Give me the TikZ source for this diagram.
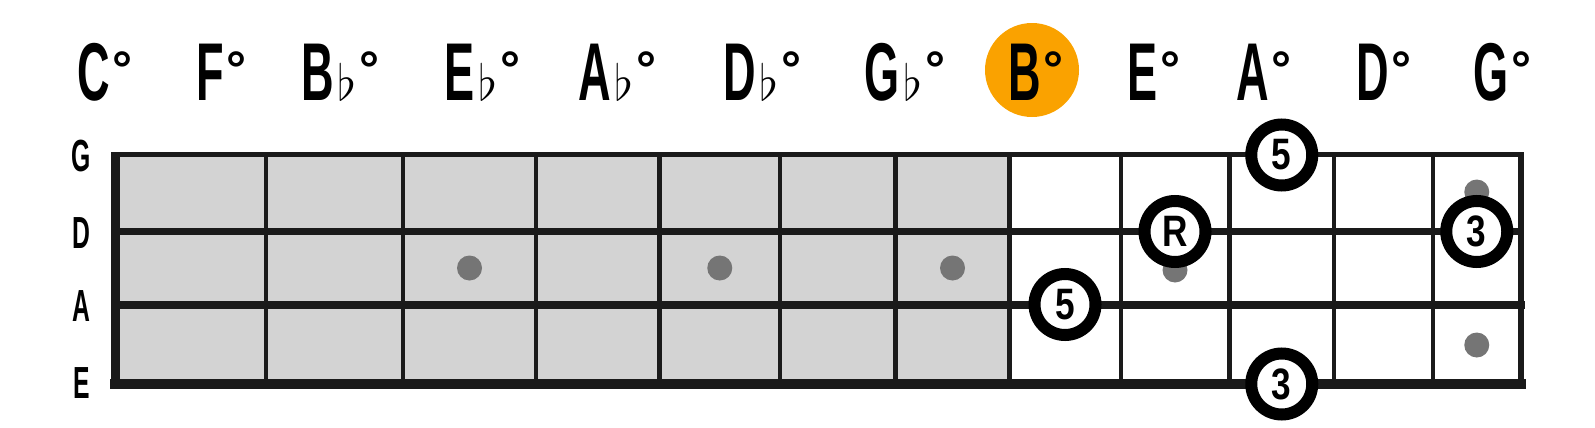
\documentclass[tikz,border=0pt]{standalone}
\usepackage{fontspec}
\newfontfamily\condfont[FakeStretch=0.55]{Liberation Sans}
\newfontfamily\ringfont[FakeStretch=0.8]{Liberation Sans}
\newfontfamily\degfont{Liberation Sans}
\usetikzlibrary{positioning}
\definecolor{boardgray}{RGB}{211,211,211}
\definecolor{dotgray}{RGB}{117,117,117}
\definecolor{hlorange}{RGB}{250,162,0}
\definecolor{inkblack}{RGB}{26,26,26}
\newcommand{\dg}{\hspace{1.5pt}{\degfont\bfseries\fontsize{25}{25}\selectfont\raisebox{6.8pt}{°}}}
\newcommand{\fl}{\hspace{2pt}{\fontsize{24}{24}\selectfont$\flat$}}
\tikzset{
  chordlabel/.style={anchor=base west, inner sep=0pt, font=\condfont\bfseries\fontsize{41}{41}\selectfont},
  stringlabel/.style={inner sep=0pt, font=\condfont\bfseries\fontsize{22.5}{22.5}\selectfont},
  fret/.style={draw=inkblack, line width=2.3pt},
  stringline/.style={draw=inkblack, line cap=rect},
  marker/.style={circle, fill=dotgray, minimum size=12.5pt, inner sep=0pt},
  tone/.style={circle, draw=black, line width=6pt, fill=white, minimum size=30.5pt, inner sep=0pt, font=\ringfont\bfseries\fontsize{22}{22}\selectfont},
  highlight/.style={circle, fill=hlorange, minimum size=47pt, inner sep=0pt}
}

\begin{document}
\begin{tikzpicture}[x=0.5pt, y=-0.5pt]
\useasboundingbox (0,0) rectangle (1595,428);
% chord names
\node[highlight] (bhl) at (1032,70) {};
\node[chordlabel] (cdim) at (77,100) {C\dg};
\node[chordlabel] (fdim) at (196,100) {F\dg};
\node[chordlabel] (bbdim) at (301,100) {B\fl\dg};
\node[chordlabel] (ebdim) at (444,100) {E\fl\dg};
\node[chordlabel] (abdim) at (578,100) {A\fl\dg};
\node[chordlabel] (dbdim) at (723,100) {D\fl\dg};
\node[chordlabel] (gbdim) at (864,100) {G\fl\dg};
\node[chordlabel] (bdim) at (1008,100) {B\dg};
\node[chordlabel] (edim) at (1127,100) {E\dg};
\node[chordlabel] (adim) at (1236,100) {A\dg};
\node[chordlabel] (ddim) at (1356,100) {D\dg};
\node[chordlabel] (gdim) at (1473,100) {G\dg};
% string names
\node[stringlabel] (sg) at (81.5,156) {G};
\node[stringlabel] (sd) at (81.5,233) {D};
\node[stringlabel] (sa) at (81.5,306) {A};
\node[stringlabel] (se) at (81.5,383) {E};
% neck
\fill[boardgray] (115,154) rectangle (1009.5,384);
\foreach \fx in {266,403,536,659.5,780,895.5,1009.5,1121,1229.5,1334,1433}
  \draw[fret] (\fx,154) -- (\fx,384);
\draw[fret, line width=2.6pt] (1521,154) -- (1521,384);
\draw[stringline, line width=2.5pt] (115,154) -- (1521,154);
\draw[stringline, line width=3.4pt] (115,231.5) -- (1521,231.5);
\draw[stringline, line width=4pt] (115,304.5) -- (1521,304.5);
\draw[stringline, line width=4.8pt] (115,384) -- (1521,384);
\draw[draw=inkblack, line width=4.5pt] (115,152) -- (115,388.5);
% fret markers
\node[marker] (m3) at (469.5,268) {};
\node[marker] (m5) at (719.75,268) {};
\node[marker] (m7) at (952.5,268) {};
\node[marker] (m9) at (1175,270) {};
\node[marker] (m12a) at (1476.75,192) {};
\node[marker] (m12b) at (1476.75,345) {};
% chord tones
\node[tone] (fifthg) at (1281.75,155) {5};
\node[tone] (root) at (1175,231.5) {R};
\node[tone] (fiftha) at (1065,304.5) {5};
\node[tone] (thirde) at (1281.75,384) {3};
\node[tone] (thirdd) at (1476.75,231.5) {3};
\end{tikzpicture}
\end{document}
